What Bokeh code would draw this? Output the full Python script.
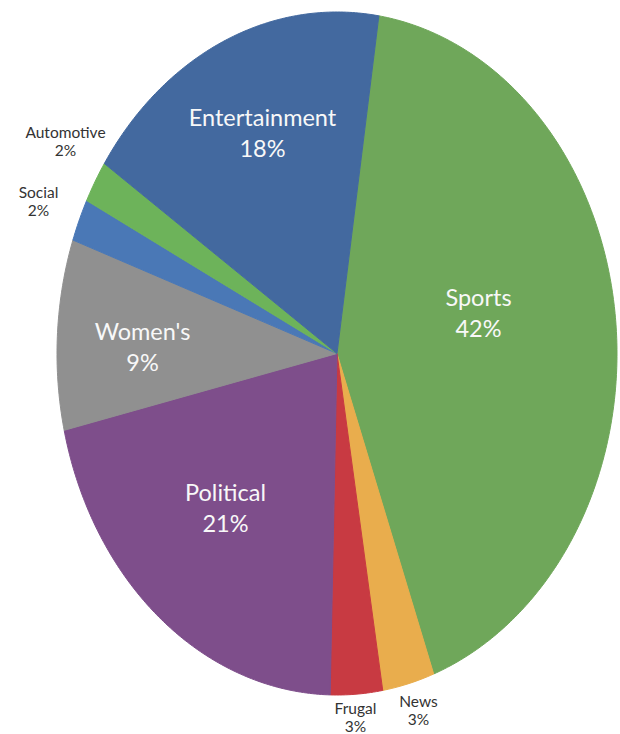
import numpy as np
from bokeh.plotting import figure
from bokeh.models import Range1d, ColumnDataSource
from bokeh.core.properties import value
from bokeh.embed import file_html
from bokeh.resources import INLINE

# ---- data (clockwise from the top) ----
categories = ["Sports", "News", "Frugal", "Political", "Women's", "Social", "Automotive", "Entertainment"]
percents = [42, 3, 3, 21, 9, 2, 2, 18]
colors = ["#6fa75a", "#e9ad4d", "#c83a42", "#7e4e8b", "#909090", "#4a78b6", "#6db35a", "#43699f"]

# ---- layout (screen pixels) ----
W, H = 620, 734
cx, cy, rx, ry = 336.5, 353.0, 280.0, 341.5
start_deg = 8.6
inside = {"Sports": (478, 312), "Political": (225, 507), "Women's": (142, 346), "Entertainment": (262, 132)}
outside = {"News": (418, 709), "Frugal": (355, 716), "Social": (38, 200), "Automotive": (65, 140)}

total = float(sum(percents))
xs, ys = [], []
a = np.radians(start_deg)
for pct in percents:
    span = 2 * np.pi * pct / total
    t = np.linspace(a, a + span, max(4, int(pct * 6)))
    xs.append([cx] + list(cx + rx * np.sin(t)) + [cx])
    ys.append([cy] + list(cy - ry * np.cos(t)) + [cy])
    a += span

p = figure(width=W, height=H, x_range=Range1d(0, W), y_range=Range1d(H, 0),
           output_backend="svg", toolbar_location=None,
           x_axis_location=None, y_axis_location=None, min_border=0)
p.grid.visible = False
p.outline_line_color = None
p.background_fill_color = "white"

p.patches(xs=xs, ys=ys, fill_color=colors, line_color=colors, line_width=1)

in_src = ColumnDataSource(dict(
    x=[inside[c][0] for c in categories if c in inside],
    y=[inside[c][1] for c in categories if c in inside],
    t=[f"{c}\n{v}%" for c, v in zip(categories, percents) if c in inside]))
p.text(x="x", y="y", text="t", source=in_src, text_font=value("Lato"),
       text_font_size="23.5px", text_color="#f8f8f8", text_align="center",
       text_baseline="middle", text_line_height=1.08)

out_src = ColumnDataSource(dict(
    x=[outside[c][0] for c in categories if c in outside],
    y=[outside[c][1] for c in categories if c in outside],
    t=[f"{c}\n{v}%" for c, v in zip(categories, percents) if c in outside]))
p.text(x="x", y="y", text="t", source=out_src, text_font=value("Lato"),
       text_font_size="15.5px", text_color="#333333", text_align="center",
       text_baseline="middle", text_line_height=1.0)

open("out.html", "w").write(file_html(p, INLINE))
